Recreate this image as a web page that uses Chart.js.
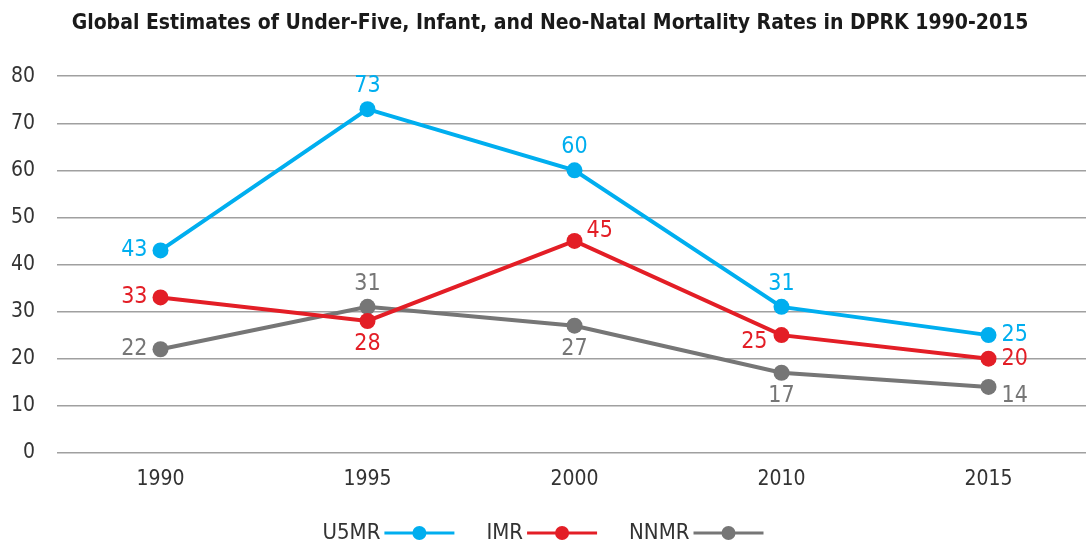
<!DOCTYPE html>
<html lang="en">
<head>
    <meta charset="UTF-8">
    <title>Mortality Rates in DPRK 1990-2015</title>
    <script src="https://cdn.jsdelivr.net/npm/chart.js"></script>
    <style>
        html, body {
            margin: 0;
            padding: 0;
            background: #ffffff;
        }
        #wrap {
            width: 1086px;
            height: 545px;
            overflow: hidden;
        }
    </style>
</head>
<body>
    <div id="wrap">
        <!-- a little wider than the window so the grid runs off the right edge -->
        <canvas id="mortalityChart" width="1100" height="545"></canvas>
    </div>

    <script>
        const years = ["1990", "1995", "2000", "2010", "2015"];
        const u5mr = [43, 73, 60, 31, 25];
        const imr = [33, 28, 45, 25, 20];
        const nnmr = [22, 31, 27, 17, 14];
        const yTicks = [0, 10, 20, 30, 40, 50, 60, 70, 80];

        const FONT = "'Liberation Sans Narrow', 'DejaVu Sans Condensed', 'Liberation Sans', sans-serif";
        const VISIBLE_W = 1086;

        // where each value label sits relative to its point
        const labelSides = {
            U5MR: ["left", "above", "above", "above", "right"],
            IMR: ["left", "below", "aboveRight", "leftBelow", "right"],
            NNMR: ["left", "above", "below", "below", "rightBelow"]
        };

        const valueLabels = {
            id: "valueLabels",
            afterDatasetsDraw(chart) {
                const ctx = chart.ctx;
                ctx.save();
                ctx.font = "23px " + FONT;
                chart.data.datasets.forEach((ds, i) => {
                    const meta = chart.getDatasetMeta(i);
                    const sides = labelSides[ds.label];
                    meta.data.forEach((pt, j) => {
                        const txt = String(ds.data[j]);
                        let x = pt.x, y = pt.y;
                        ctx.fillStyle = ds.borderColor;
                        ctx.textBaseline = "middle";
                        switch (sides[j]) {
                            case "left":
                                ctx.textAlign = "right"; x -= 13; break;
                            case "right":
                                ctx.textAlign = "left"; x += 13; break;
                            case "above":
                                ctx.textAlign = "center"; y -= 23; break;
                            case "below":
                                ctx.textAlign = "center"; y += 23; break;
                            case "aboveRight":
                                ctx.textAlign = "left"; x += 12; y -= 10; break;
                            case "leftBelow":
                                ctx.textAlign = "right"; x -= 14; y += 7; break;
                            case "rightBelow":
                                ctx.textAlign = "left"; x += 13; y += 9; break;
                        }
                        ctx.fillText(txt, x, y);
                    });
                });
                ctx.restore();
            }
        };

        // legend: name first, then a line with a dot in the middle
        const bottomLegend = {
            id: "bottomLegend",
            afterDraw(chart) {
                const ctx = chart.ctx;
                ctx.save();
                ctx.font = "22px " + FONT;
                ctx.textBaseline = "middle";
                ctx.textAlign = "left";
                const y = 533;
                const lineLen = 70, gap = 32;
                let total = 0;
                const widths = chart.data.datasets.map(ds => ctx.measureText(ds.label).width);
                widths.forEach(w => total += w + 4 + lineLen);
                total += gap * (widths.length - 1);
                let x = (VISIBLE_W - total) / 2;
                chart.data.datasets.forEach((ds, i) => {
                    ctx.fillStyle = "#333333";
                    ctx.fillText(ds.label, x, y);
                    x += widths[i] + 4;
                    ctx.strokeStyle = ds.borderColor;
                    ctx.lineWidth = 3;
                    ctx.beginPath();
                    ctx.moveTo(x, y);
                    ctx.lineTo(x + lineLen, y);
                    ctx.stroke();
                    ctx.fillStyle = ds.borderColor;
                    ctx.beginPath();
                    ctx.arc(x + lineLen / 2, y, 7, 0, Math.PI * 2);
                    ctx.fill();
                    x += lineLen + gap;
                });
                ctx.restore();
            }
        };

        function makeSet(label, values, color) {
            return {
                label: label,
                data: values,
                borderColor: color,
                backgroundColor: color,
                borderWidth: 4,
                pointRadius: 8,
                pointHoverRadius: 8,
                pointBorderWidth: 0,
                tension: 0,
                fill: false
            };
        }

        const ctx = document.getElementById("mortalityChart").getContext("2d");
        new Chart(ctx, {
            type: "line",
            data: {
                labels: years,
                datasets: [
                    makeSet("U5MR", u5mr, "#00aeef"),
                    makeSet("IMR", imr, "#e31e26"),
                    makeSet("NNMR", nnmr, "#767676")
                ]
            },
            options: {
                responsive: false,
                animation: false,
                layout: {
                    padding: { top: 0, right: 0, bottom: 47, left: 0 }
                },
                plugins: {
                    legend: { display: false },
                    tooltip: { enabled: false },
                    title: {
                        display: true,
                        text: "Global Estimates of Under-Five, Infant, and Neo-Natal Mortality Rates in DPRK 1990-2015",
                        color: "#1a1a1a",
                        font: { family: FONT, size: 21, weight: "bold" },
                        padding: { top: 11, bottom: 40 }
                    }
                },
                scales: {
                    x: {
                        offset: true,
                        grid: { display: false },
                        border: { display: false },
                        ticks: {
                            color: "#333333",
                            font: { family: FONT, size: 21 },
                            padding: 6
                        }
                    },
                    y: {
                        min: 0,
                        max: 80,
                        afterBuildTicks(axis) {
                            axis.ticks = yTicks.map(v => ({ value: v }));
                        },
                        afterFit(axis) {
                            axis.width = 57;
                        },
                        grid: {
                            color: "#a0a0a0",
                            lineWidth: 1.5,
                            drawTicks: false
                        },
                        border: { display: false },
                        ticks: {
                            color: "#333333",
                            font: { family: FONT, size: 21 },
                            padding: 22
                        }
                    }
                }
            },
            plugins: [valueLabels, bottomLegend]
        });
    </script>
</body>
</html>
